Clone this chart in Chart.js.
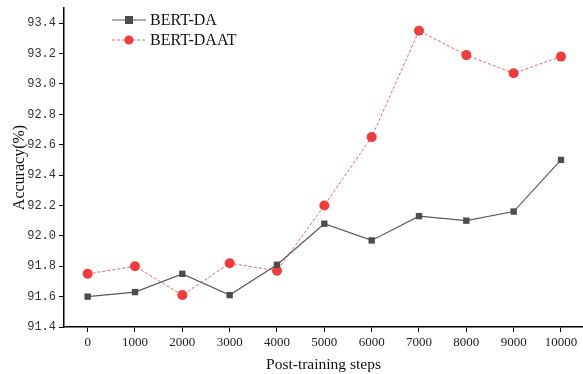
<!DOCTYPE html>
<html>
<head>
<meta charset="utf-8">
<script src="https://cdn.jsdelivr.net/npm/chart.js@4.4.0/dist/chart.umd.min.js"></script>
<style>
  html, body { margin: 0; padding: 0; background: #fff; overflow: hidden; }
  #wrap { width: 583px; height: 374px; overflow: hidden; }
</style>
</head>
<body>
<div id="wrap"><canvas id="chart" width="588" height="374"></canvas></div>
<script>
// datos
const steps = [0, 1000, 2000, 3000, 4000, 5000, 6000, 7000, 8000, 9000, 10000];
const bertDA = [91.60, 91.63, 91.75, 91.61, 91.81, 92.08, 91.97, 92.13, 92.10, 92.16, 92.50];
const bertDAAT = [91.75, 91.80, 91.61, 91.82, 91.77, 92.20, 92.65, 93.35, 93.19, 93.07, 93.18];
const yTicks = [91.4, 91.6, 91.8, 92.0, 92.2, 92.4, 92.6, 92.8, 93.0, 93.2, 93.4];

const serif = '"Liberation Serif", "Times New Roman", serif';
const mono = '"Liberation Mono", "Courier New", monospace';

// Leyenda dibujada a mano (línea + marcador + texto)
const legendPlugin = {
    id: 'customLegend',
    afterDraw(chart) {
        const ctx = chart.ctx;
        const items = chart.data.datasets;
        ctx.save();
        items.forEach((ds, i) => {
            const y = 20 + i * 20;
            ctx.strokeStyle = ds.borderColor;
            ctx.lineWidth = ds.borderWidth;
            ctx.setLineDash(ds.borderDash || []);
            ctx.beginPath();
            ctx.moveTo(112, y);
            ctx.lineTo(146, y);
            ctx.stroke();
            ctx.setLineDash([]);
            ctx.fillStyle = ds.pointBackgroundColor;
            if (ds.pointStyle === 'rect') {
                ctx.fillRect(125, y - 4, 8, 8);
            } else {
                ctx.beginPath();
                ctx.arc(129, y, 4.5, 0, Math.PI * 2);
                ctx.fill();
            }
            ctx.fillStyle = '#111';
            ctx.font = '16px ' + serif;
            ctx.textBaseline = 'middle';
            ctx.fillText(ds.label, 150, y + 1);
        });
        ctx.restore();
    }
};

const chart = new Chart(document.getElementById('chart'), {
    type: 'line',
    data: {
        datasets: [
            {
                label: 'BERT-DA',
                data: steps.map((s, i) => ({ x: s, y: bertDA[i] })),
                borderColor: '#5a5a5a',
                borderWidth: 1.2,
                pointStyle: 'rect',
                pointRadius: 4.5,
                pointBackgroundColor: '#4d4d4d',
                pointBorderColor: '#4d4d4d',
                pointBorderWidth: 0,
                tension: 0
            },
            {
                label: 'BERT-DAAT',
                data: steps.map((s, i) => ({ x: s, y: bertDAAT[i] })),
                borderColor: 'rgba(240, 70, 70, 0.85)',
                borderWidth: 1,
                borderDash: [3, 2],
                pointStyle: 'circle',
                pointRadius: 5,
                pointBackgroundColor: '#f23c3c',
                pointBorderColor: '#f23c3c',
                pointBorderWidth: 0,
                tension: 0
            }
        ]
    },
    options: {
        responsive: false,
        animation: false,
        layout: { padding: { top: 8, right: 0, left: 0, bottom: 0 } },
        plugins: {
            legend: { display: false },
            tooltip: { enabled: false }
        },
        scales: {
            x: {
                type: 'linear',
                min: -500,
                max: 10465,
                afterBuildTicks: s => { s.ticks = steps.map(v => ({ value: v })); },
                afterFit: s => { s.height = 47; s.paddingLeft = 0; s.paddingRight = 0; },
                ticks: {
                    color: '#222',
                    font: { family: serif, size: 13 },
                    padding: 3,
                    maxRotation: 0,
                    callback: v => String(v)
                },
                grid: { drawOnChartArea: false, drawTicks: true, tickLength: 5, tickColor: '#000', tickWidth: 1 },
                border: { display: true, color: '#000', width: 1.5 },
                title: {
                    display: true,
                    text: 'Post-training steps',
                    color: '#111',
                    font: { family: serif, size: 15.5 },
                    padding: { top: 0, bottom: 0 }
                }
            },
            xMinor: {
                type: 'linear',
                position: 'bottom',
                min: -500,
                max: 10465,
                afterBuildTicks: s => {
                    s.ticks = steps.slice(0, -1).map(v => ({ value: v + 500 }));
                },
                afterFit: s => { s.height = 0; s.paddingLeft = 0; s.paddingRight = 0; },
                ticks: { display: false },
                grid: { drawOnChartArea: false, drawTicks: true, tickLength: 3, tickColor: '#000', tickWidth: 1 },
                border: { display: false }
            },
            y: {
                min: 91.4,
                max: 93.5,
                afterBuildTicks: s => { s.ticks = yTicks.map(v => ({ value: v })); },
                afterFit: s => { s.width = 64; s.paddingTop = 0; s.paddingBottom = 0; },
                ticks: {
                    color: '#333',
                    font: { family: mono, size: 12 },
                    padding: 3,
                    callback: v => v.toFixed(1)
                },
                grid: { drawOnChartArea: false, drawTicks: true, tickLength: 5, tickColor: '#000', tickWidth: 1 },
                border: { display: true, color: '#000', width: 1.5 },
                title: {
                    display: true,
                    text: 'Accuracy(%)',
                    color: '#111',
                    font: { family: serif, size: 16 },
                    padding: { top: 10, bottom: 0 }
                }
            },
            yMinor: {
                position: 'left',
                min: 91.4,
                max: 93.5,
                afterBuildTicks: s => {
                    s.ticks = yTicks.map(v => ({ value: v + 0.1 }));
                },
                afterFit: s => { s.width = 0; s.paddingTop = 0; s.paddingBottom = 0; },
                ticks: { display: false },
                grid: { drawOnChartArea: false, drawTicks: true, tickLength: 3, tickColor: '#000', tickWidth: 1 },
                border: { display: false }
            }
        }
    },
    plugins: [legendPlugin]
});
</script>
</body>
</html>
